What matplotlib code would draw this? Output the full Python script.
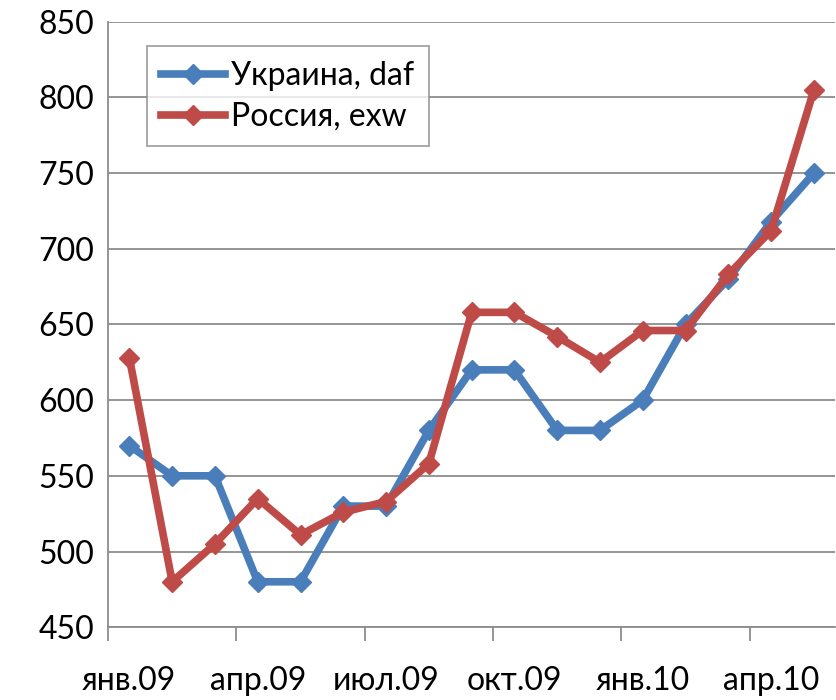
import matplotlib.pyplot as plt
import numpy as np

months = ["янв.09", "фев.09", "мар.09", "апр.09", "май.09", "июн.09", "июл.09",
          "авг.09", "сен.09", "окт.09", "ноя.09", "дек.09", "янв.10", "фев.10",
          "мар.10", "апр.10", "май.10"]
ukraine = [570, 550, 550, 480, 480, 530, 530, 580, 620, 620, 580, 580, 600, 650, 680, 718, 750]
russia = [628, 480, 505, 535, 511, 526, 533, 558, 658, 658, 642, 625, 646, 646, 683, 712, 805]

plt.rcParams['font.family'] = ['Lato', 'DejaVu Sans']

fig = plt.figure(figsize=(8.37, 7), dpi=100)
ax = fig.add_axes([0.129, 0.104, 0.869, 0.865])

x = np.arange(len(months))
ax.plot(x, ukraine, color="#4A7EBB", lw=5.5, marker="D", ms=10, label="Украина, daf")
ax.plot(x, russia, color="#BE4B48", lw=5.5, marker="D", ms=10, label="Россия, exw")

ax.set_xlim(-0.5, len(months) - 0.5)
ax.set_ylim(450, 850)
ax.set_yticks(np.arange(450, 851, 50))
ax.yaxis.grid(True, color="#8c8c8c", lw=1.3)
ax.set_axisbelow(True)

ax.set_xticks(np.arange(-0.5, len(months), 3))
ax.set_xticklabels([])
ax.set_xticks(x[::3], minor=True)
ax.set_xticklabels(months[::3], minor=True)
ax.tick_params(axis="x", which="major", length=10, color="#8c8c8c", width=1.3)
ax.tick_params(axis="x", which="minor", length=0, pad=28, labelsize=23)
ax.tick_params(axis="y", length=0, pad=10, labelsize=23)

for s in ["top", "right"]:
    ax.spines[s].set_visible(False)
ax.spines["left"].set_color("#8c8c8c")
ax.spines["bottom"].set_color("#8c8c8c")
ax.spines["left"].set_linewidth(1.3)
ax.spines["bottom"].set_linewidth(1.3)

leg = ax.legend(loc="upper left", bbox_to_anchor=(0.04, 0.975), fontsize=23,
                fancybox=False, handlelength=2.0, borderpad=0.45, labelspacing=0.35,
                handletextpad=0.2, borderaxespad=0.3)
leg.get_frame().set_edgecolor("#8c8c8c")
leg.get_frame().set_linewidth(1.3)

fig.savefig("out.png", dpi=100)
